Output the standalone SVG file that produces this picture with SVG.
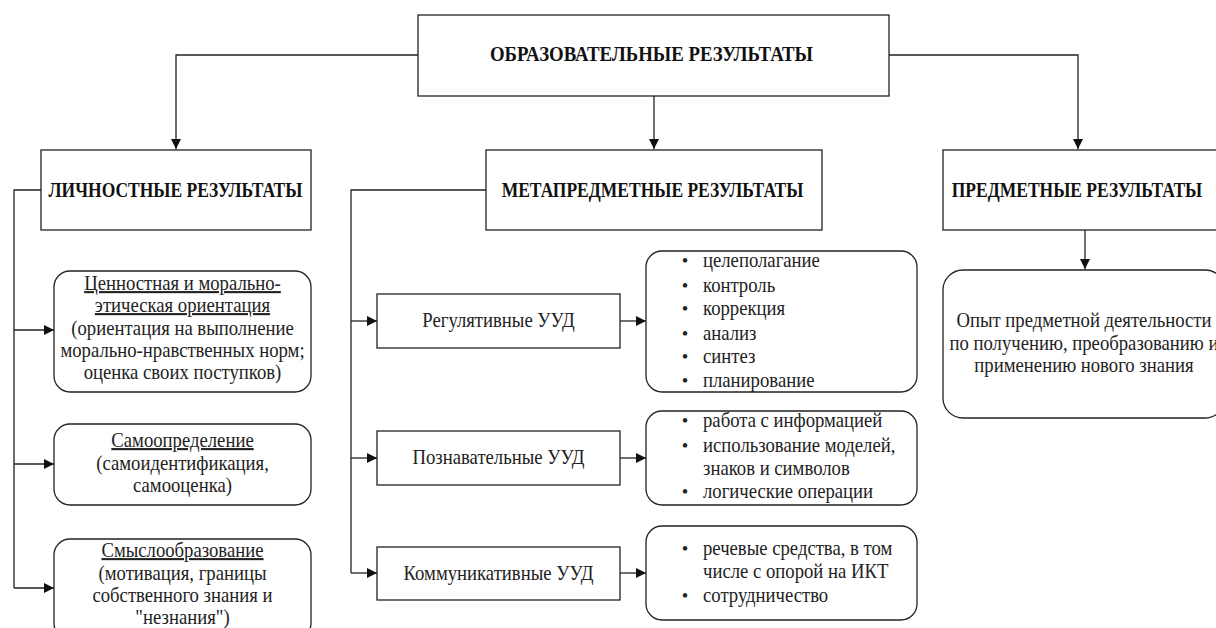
<svg xmlns="http://www.w3.org/2000/svg" width="1216" height="628" viewBox="0 0 1216 628">
<style>
.box{fill:#fff;stroke:#222;stroke-width:1.3}
.ln{fill:none;stroke:#222;stroke-width:1.3}
.t{font-family:'Liberation Serif','Times New Roman',serif;font-size:18.7px;fill:#222}
.h{font-family:'Liberation Serif','Times New Roman',serif;font-size:17.5px;font-weight:bold;fill:#111}
.c{text-anchor:middle}
.u{text-decoration:underline}
</style>
<defs>
<marker id="arr" viewBox="0 0 10 10" refX="10" refY="5" markerWidth="10" markerHeight="10" markerUnits="userSpaceOnUse" orient="auto">
<path d="M0,0 L10,5 L0,10 Z" fill="#111"/>
</marker>
</defs>
<rect width="1216" height="628" fill="#fff"/>
<g id="connectors">
<path class="ln" d="M418,55 H176 V149" marker-end="url(#arr)"/>
<path class="ln" d="M654,96 V149" marker-end="url(#arr)"/>
<path class="ln" d="M889,55 H1078 V149" marker-end="url(#arr)"/>
<path class="ln" d="M41,190 H14 V588"/>
<path class="ln" d="M14,330 H54" marker-end="url(#arr)"/>
<path class="ln" d="M14,464 H54" marker-end="url(#arr)"/>
<path class="ln" d="M14,588 H54" marker-end="url(#arr)"/>
<path class="ln" d="M486,190 H351 V573"/>
<path class="ln" d="M351,321 H377" marker-end="url(#arr)"/>
<path class="ln" d="M351,458 H377" marker-end="url(#arr)"/>
<path class="ln" d="M351,573 H377" marker-end="url(#arr)"/>
<path class="ln" d="M620,321 H646" marker-end="url(#arr)"/>
<path class="ln" d="M620,458 H646" marker-end="url(#arr)"/>
<path class="ln" d="M620,573 H646" marker-end="url(#arr)"/>
<path class="ln" d="M1085,230 V269" marker-end="url(#arr)"/>
</g>
<g id="root">
<rect class="box" x="418" y="15" width="471" height="81"/>
<text class="h c" style="font-size:18.8px" transform="translate(651.5,61) scale(1,1.15)">ОБРАЗОВАТЕЛЬНЫЕ РЕЗУЛЬТАТЫ</text>
</g>
<g id="personal">
<rect class="box" x="41" y="150" width="270" height="80"/>
<text class="h c" transform="translate(175.5,197) scale(1,1.15)">ЛИЧНОСТНЫЕ РЕЗУЛЬТАТЫ</text>
</g>
<g id="meta">
<rect class="box" x="486" y="150" width="336" height="80"/>
<text class="h c" transform="translate(652.5,197) scale(1,1.15)">МЕТАПРЕДМЕТНЫЕ РЕЗУЛЬТАТЫ</text>
</g>
<g id="subject">
<rect class="box" x="943" y="150" width="280" height="80"/>
<text class="h c" transform="translate(1077,197) scale(1,1.15)">ПРЕДМЕТНЫЕ РЕЗУЛЬТАТЫ</text>
</g>
<g id="values">
<rect class="box" x="54" y="271" width="257" height="121" rx="16"/>
<text class="t c u" transform="translate(182.5,290) scale(1,1.13)">Ценностная и морально-</text>
<text class="t c u" transform="translate(182.5,312) scale(1,1.13)">этическая ориентация</text>
<text class="t c" transform="translate(182.5,335) scale(1,1.13)">(ориентация на выполнение</text>
<text class="t c" transform="translate(182.5,357) scale(1,1.13)">морально-нравственных норм;</text>
<text class="t c" transform="translate(182.5,379) scale(1,1.13)">оценка своих поступков)</text>
</g>
<g id="selfdet">
<rect class="box" x="54" y="424" width="257" height="81" rx="16"/>
<text class="t c u" transform="translate(182.5,447) scale(1,1.13)">Самоопределение</text>
<text class="t c" transform="translate(182.5,470) scale(1,1.13)">(самоидентификация,</text>
<text class="t c" transform="translate(182.5,492) scale(1,1.13)">самооценка)</text>
</g>
<g id="meaning">
<rect class="box" x="54" y="539" width="257" height="100" rx="16"/>
<text class="t c u" transform="translate(182.5,557) scale(1,1.13)">Смыслообразование</text>
<text class="t c" transform="translate(182.5,580) scale(1,1.13)">(мотивация, границы</text>
<text class="t c" transform="translate(182.5,602) scale(1,1.13)">собственного знания и</text>
<text class="t c" transform="translate(182.5,624) scale(1,1.13)">"незнания")</text>
</g>
<g id="reg">
<rect class="box" x="377" y="294" width="243" height="54"/>
<text class="t c" transform="translate(498.5,327) scale(1,1.13)">Регулятивные УУД</text>
</g>
<g id="cog">
<rect class="box" x="377" y="431" width="243" height="54"/>
<text class="t c" transform="translate(498.5,464) scale(1,1.13)">Познавательные УУД</text>
</g>
<g id="comm">
<rect class="box" x="377" y="547" width="243" height="53"/>
<text class="t c" transform="translate(498.5,580) scale(1,1.13)">Коммуникативные УУД</text>
</g>
<g id="reglist">
<rect class="box" x="646" y="251" width="271" height="141" rx="16"/>
<text class="t c" x="685" y="267">•<tspan x="685" y="292">•</tspan><tspan x="685" y="315">•</tspan><tspan x="685" y="340">•</tspan><tspan x="685" y="363">•</tspan><tspan x="685" y="387">•</tspan></text>
<text class="t" transform="translate(703,267) scale(1,1.13)">целеполагание</text>
<text class="t" transform="translate(703,292) scale(1,1.13)">контроль</text>
<text class="t" transform="translate(703,315) scale(1,1.13)">коррекция</text>
<text class="t" transform="translate(703,340) scale(1,1.13)">анализ</text>
<text class="t" transform="translate(703,363) scale(1,1.13)">синтез</text>
<text class="t" transform="translate(703,387) scale(1,1.13)">планирование</text>
</g>
<g id="coglist">
<rect class="box" x="646" y="411" width="271" height="94" rx="16"/>
<text class="t c" x="685" y="427">•<tspan x="685" y="452">•</tspan><tspan x="685" y="498">•</tspan></text>
<text class="t" transform="translate(703,427) scale(1,1.13)">работа с информацией</text>
<text class="t" transform="translate(703,452) scale(1,1.13)">использование моделей,</text>
<text class="t" transform="translate(703,475) scale(1,1.13)">знаков и символов</text>
<text class="t" transform="translate(703,498) scale(1,1.13)">логические операции</text>
</g>
<g id="commlist">
<rect class="box" x="646" y="526" width="271" height="94" rx="16"/>
<text class="t c" x="685" y="555">•<tspan x="685" y="602">•</tspan></text>
<text class="t" transform="translate(703,555) scale(1,1.13)">речевые средства, в том</text>
<text class="t" transform="translate(703,578) scale(1,1.13)">числе с опорой на ИКТ</text>
<text class="t" transform="translate(703,602) scale(1,1.13)">сотрудничество</text>
</g>
<g id="experience">
<rect class="box" x="943" y="270" width="282" height="148" rx="20"/>
<text class="t c" transform="translate(1084,327) scale(1,1.13)">Опыт предметной деятельности</text>
<text class="t c" transform="translate(1084,350) scale(1,1.13)">по получению, преобразованию и</text>
<text class="t c" transform="translate(1084,372) scale(1,1.13)">применению нового знания</text>
</g>
</svg>
